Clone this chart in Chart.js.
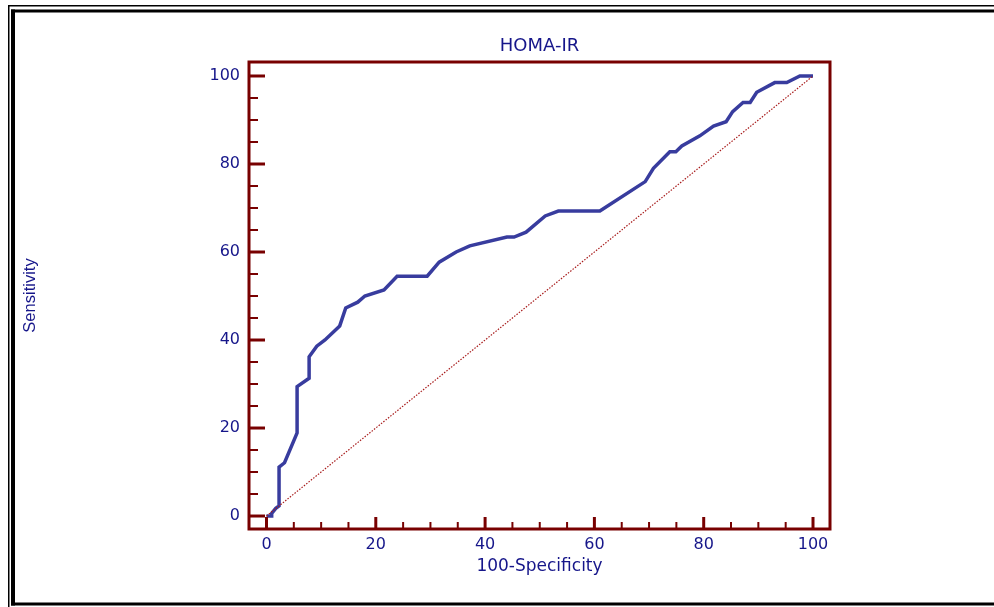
<!DOCTYPE html>
<html>
<head>
<meta charset="utf-8">
<title>HOMA-IR ROC</title>
<script src="https://cdn.jsdelivr.net/npm/chart.js@4.4.1/dist/chart.umd.min.js"></script>
<style>
    html, body { margin: 0; padding: 0; background: #fff; }
    #wrap { width: 994px; height: 607px; }
</style>
</head>
<body>
<div id="wrap"><canvas id="roc" width="994" height="607"></canvas></div>
<script>
// 100-Specificity (false positive rate, %) and Sensitivity (%)
const fpr = [0, 0.95, 0.95, 1.7, 2.3, 2.3, 3.3, 5.6, 5.6, 7.8, 7.8, 9.2, 10.7, 13.4, 14.5,
    16.7, 18, 21.5, 23.9, 29.4, 31.6, 34.7, 37.2, 44, 45.3, 47.5, 51, 53.4, 61, 69.3,
    70.8, 73.8, 74.9, 76, 79.3, 81.8, 84.1, 85.3, 87.2, 88.5, 89.7, 93, 95.2, 97.6, 100];
const tpr = [0, 0, 0.6, 1.75, 2.3, 11.1, 12.1, 18.9, 29.4, 31.3, 36.2, 38.6, 40, 43.2, 47.3,
    48.6, 50, 51.4, 54.5, 54.5, 57.7, 60, 61.4, 63.4, 63.4, 64.5, 68.2, 69.3, 69.3, 76,
    79, 82.8, 82.8, 84.1, 86.4, 88.6, 89.6, 91.9, 94, 94, 96.3, 98.5, 98.5, 100, 100];
const diagX = [0, 100];
const diagY = [0, 100];
const majorTicks = [0, 20, 40, 60, 80, 100];
const minorTicks = [5, 10, 15, 25, 30, 35, 45, 50, 55, 65, 70, 75, 85, 90, 95];

const textColor = '#16168a';
const frameColor = '#780000';

// page frame + plot frame with inward ticks
const framePlugin = {
    id: 'frame',
    beforeDraw(chart) {
        const ctx = chart.ctx;
        ctx.save();
        ctx.fillStyle = '#000';
        ctx.fillRect(8, 5, 986, 1.5);
        ctx.fillRect(8, 5, 1.5, 602);
        ctx.fillRect(11, 9.5, 983, 3);
        ctx.fillRect(11, 9.5, 4, 596);
        ctx.fillRect(11, 602.5, 983, 3);
        ctx.restore();
    },
    afterDatasetsDraw(chart) {
        const ctx = chart.ctx;
        const a = chart.chartArea;
        const xs = chart.scales.x;
        const ys = chart.scales.y;
        ctx.save();
        ctx.strokeStyle = frameColor;
        ctx.lineWidth = 3;
        ctx.strokeRect(a.left, a.top, a.right - a.left, a.bottom - a.top);

        function tick(v, len, w) {
            ctx.lineWidth = w;
            const py = ys.getPixelForValue(v);
            ctx.beginPath();
            ctx.moveTo(a.left, py);
            ctx.lineTo(a.left + len.y, py);
            ctx.stroke();
            const px = xs.getPixelForValue(v);
            ctx.beginPath();
            ctx.moveTo(px, a.bottom);
            ctx.lineTo(px, a.bottom - len.x);
            ctx.stroke();
        }
        majorTicks.forEach(v => tick(v, {x: 12, y: 16}, 3));
        minorTicks.forEach(v => tick(v, {x: 7, y: 9}, 2));
        ctx.restore();
    }
};

function fixedTicks(scale) {
    scale.ticks = majorTicks.map(v => ({value: v}));
}

const data = {
    datasets: [
        {
            label: 'Reference',
            data: diagX.map((x, i) => ({x: x, y: diagY[i]})),
            borderColor: '#a81c1c',
            borderWidth: 1.2,
            borderDash: [1.5, 1.5],
            pointRadius: 0,
            showLine: true,
        },
        {
            label: 'HOMA-IR',
            data: fpr.map((x, i) => ({x: x, y: tpr[i]})),
            borderColor: '#383c9e',
            borderWidth: 3.5,
            pointRadius: 0,
            showLine: true,
            tension: 0,
        },
    ]
};

const config = {
    type: 'scatter',
    data: data,
    options: {
        responsive: false,
        animation: false,
        devicePixelRatio: 1,
        layout: {
            padding: {left: 10, right: 164, top: 25, bottom: 25}
        },
        plugins: {
            legend: {display: false},
            tooltip: {enabled: false},
            title: {
                display: true,
                text: 'HOMA-IR',
                fullSize: false,
                color: textColor,
                font: {family: 'DejaVu Sans', size: 18, weight: 'normal', lineHeight: 1.2},
                padding: {top: 10.6, bottom: 4.8}
            }
        },
        scales: {
            x: {
                type: 'linear',
                min: -3.2,
                max: 103.11,
                afterBuildTicks: fixedTicks,
                afterFit(scale) { scale.height = 53; },
                grid: {display: false, drawTicks: false},
                border: {display: false},
                ticks: {
                    color: textColor,
                    padding: 6,
                    maxRotation: 0,
                    font: {family: 'DejaVu Sans', size: 16}
                },
                title: {
                    display: true,
                    text: '100-Specificity',
                    color: textColor,
                    padding: {top: 0, bottom: 5.3},
                    font: {family: 'DejaVu Sans', size: 17, lineHeight: 1.2}
                }
            },
            y: {
                type: 'linear',
                min: -2.95,
                max: 103.18,
                afterBuildTicks: fixedTicks,
                afterFit(scale) { scale.width = 239; },
                grid: {display: false, drawTicks: false},
                border: {display: false},
                ticks: {
                    color: textColor,
                    padding: 9,
                    font: {family: 'DejaVu Sans', size: 16}
                },
                title: {
                    display: true,
                    text: 'Sensitivity',
                    color: textColor,
                    padding: {top: 10.4, bottom: 0},
                    font: {family: 'Liberation Sans', size: 16.5, lineHeight: 1.2}
                }
            }
        }
    },
    plugins: [framePlugin]
};

const rocChart = new Chart(
    document.getElementById('roc').getContext('2d'),
    config
);
</script>
</body>
</html>
